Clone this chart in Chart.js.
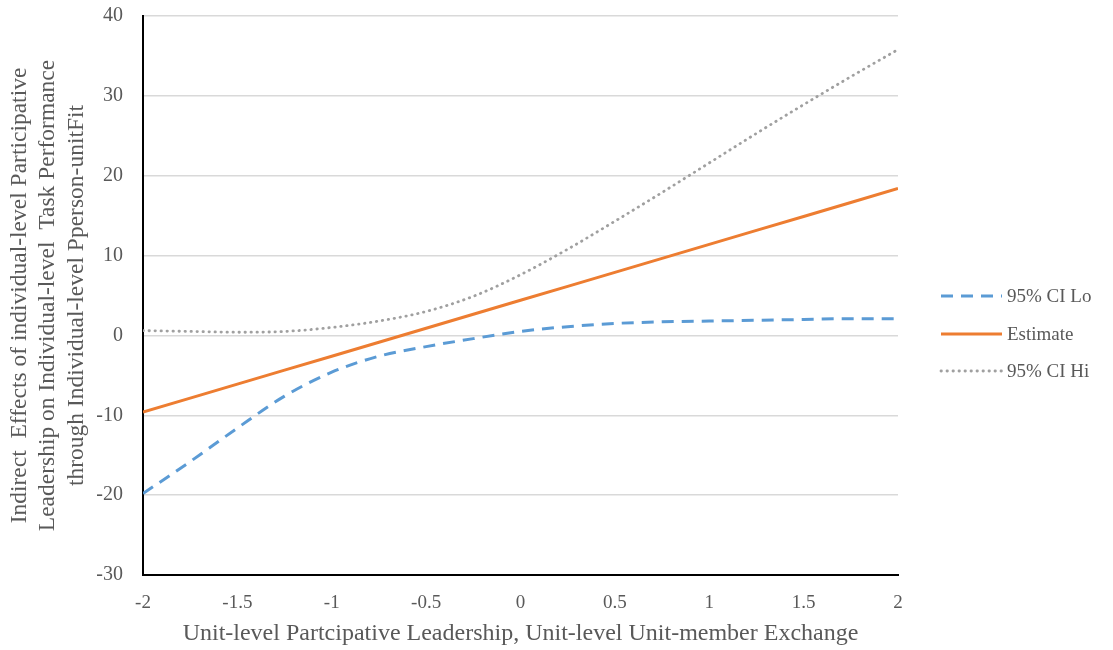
<!DOCTYPE html>
<html>
<head>
<meta charset="utf-8">
<title>Indirect effects by unit-level leadership</title>
<script src="https://cdn.jsdelivr.net/npm/chart.js@4/dist/chart.umd.min.js"></script>
<style>
  html, body { margin: 0; padding: 0; background: #ffffff; }
  #wrap { width: 1113px; height: 650px; position: relative; }
</style>
</head>
<body>
<div id="wrap"><canvas id="chart" width="1113" height="650"></canvas></div>
<script>
// Moderator values (x) shared by all three series
const xValues = [-2, -1.75, -1.5, -1.25, -1, -0.75, -0.5, -0.25, 0, 0.25, 0.5, 0.75, 1, 1.25, 1.5, 1.75, 2];

// Lower bound of the 95% confidence interval
const ciLo = [-19.8, -15.8, -11.6, -7.6, -4.6, -2.6, -1.4, -0.4, 0.5, 1.1, 1.5, 1.7, 1.8, 1.9, 2.0, 2.1, 2.1];

// Point estimate of the indirect effect
const estimate = [-9.6, -7.85, -6.1, -4.35, -2.6, -0.85, 0.9, 2.65, 4.4, 6.15, 7.9, 9.65, 11.4, 13.15, 14.9, 16.65, 18.4];

// Upper bound of the 95% confidence interval
const ciHi = [0.6, 0.5, 0.4, 0.5, 1.0, 1.8, 3.0, 4.9, 7.6, 10.8, 14.3, 17.9, 21.6, 25.3, 28.9, 32.4, 35.8];

// Axis tick values
const xTicks = [-2, -1.5, -1, -0.5, 0, 0.5, 1, 1.5, 2];
const yTicks = [-30, -20, -10, 0, 10, 20, 30, 40];

const seriesNames = ['95% CI Lo', 'Estimate', '95% CI Hi'];

const FONT = '"Liberation Serif", "Times New Roman", serif';
const TEXT = '#595959';

const toPoints = ys => xValues.map((x, i) => ({ x: x, y: ys[i] }));

// Legend drawn in the right margin, one row per series
const sideLegend = {
  id: 'sideLegend',
  afterDraw(chart) {
    const ctx = chart.ctx;
    const rows = [296, 334, 371];
    const x0 = 941, x1 = 1002, tx = 1007;
    ctx.save();
    chart.data.datasets.forEach((ds, i) => {
      const y = rows[i];
      ctx.beginPath();
      ctx.strokeStyle = ds.borderColor;
      ctx.lineWidth = ds.borderWidth;
      ctx.lineCap = ds.borderCapStyle || 'butt';
      ctx.setLineDash(ds.borderDash || []);
      ctx.moveTo(x0, y);
      ctx.lineTo(x1, y);
      ctx.stroke();
      ctx.setLineDash([]);
      ctx.fillStyle = TEXT;
      ctx.font = '19px ' + FONT;
      ctx.textAlign = 'left';
      ctx.textBaseline = 'middle';
      ctx.fillText(ds.label, tx, y + 1);
    });
    ctx.restore();
  }
};

// Fixed scale boxes so the plot area sits at a known place
const fixBox = (w, h) => s => {
  if (w !== null) s.width = w;
  if (h !== null) s.height = h;
  s.paddingTop = 0;
  s.paddingBottom = 0;
  s.paddingLeft = 0;
  s.paddingRight = 0;
};

new Chart(document.getElementById('chart'), {
  type: 'line',
  data: {
    datasets: [
      {
        label: seriesNames[0],
        data: toPoints(ciLo),
        borderColor: '#5b9bd5',
        borderWidth: 3,
        borderDash: [12, 8],
        cubicInterpolationMode: 'monotone',
        pointRadius: 0,
        fill: false
      },
      {
        label: seriesNames[1],
        data: toPoints(estimate),
        borderColor: '#ed7d31',
        borderWidth: 3,
        tension: 0,
        pointRadius: 0,
        fill: false
      },
      {
        label: seriesNames[2],
        data: toPoints(ciHi),
        borderColor: '#a0a0a0',
        borderWidth: 2.8,
        borderDash: [0.4, 5.6],
        borderCapStyle: 'round',
        cubicInterpolationMode: 'monotone',
        pointRadius: 0,
        fill: false
      }
    ]
  },
  options: {
    responsive: false,
    animation: false,
    layout: { padding: { top: 16, right: 215, bottom: 0, left: 0 } },
    plugins: {
      legend: { display: false },
      tooltip: { enabled: false }
    },
    scales: {
      x: {
        type: 'linear',
        min: -2,
        max: 2,
        afterBuildTicks: s => { s.ticks = xTicks.map(v => ({ value: v })); },
        afterFit: fixBox(null, 75),
        grid: { display: false, drawTicks: false },
        border: { display: true, color: '#000000', width: 2 },
        ticks: {
          color: TEXT,
          font: { family: FONT, size: 19 },
          padding: 17,
          maxRotation: 0,
          autoSkip: false,
          callback: v => String(v)
        },
        title: {
          display: true,
          text: 'Unit-level Partcipative Leadership, Unit-level Unit-member Exchange',
          color: TEXT,
          font: { family: FONT, size: 24, lineHeight: 1.2 },
          padding: { top: 0, bottom: 2 }
        }
      },
      y: {
        type: 'linear',
        min: -30,
        max: 40,
        afterBuildTicks: s => { s.ticks = yTicks.map(v => ({ value: v })); },
        afterFit: fixBox(143, null),
        grid: { color: '#d9d9d9', lineWidth: 1.5, drawTicks: false },
        border: { display: true, color: '#000000', width: 2 },
        ticks: {
          color: TEXT,
          font: { family: FONT, size: 20 },
          padding: 20,
          callback: v => String(v)
        },
        title: {
          display: true,
          text: [
            'Indirect  Effects of individual-level Participative',
            'Leadership on Individual-level  Task Performance',
            'through Individual-level Pperson-unitFit'
          ],
          color: TEXT,
          font: { family: FONT, size: 23.5, lineHeight: 1.2 },
          padding: { top: 6, bottom: 0 }
        }
      }
    }
  },
  plugins: [sideLegend]
});
</script>
</body>
</html>
